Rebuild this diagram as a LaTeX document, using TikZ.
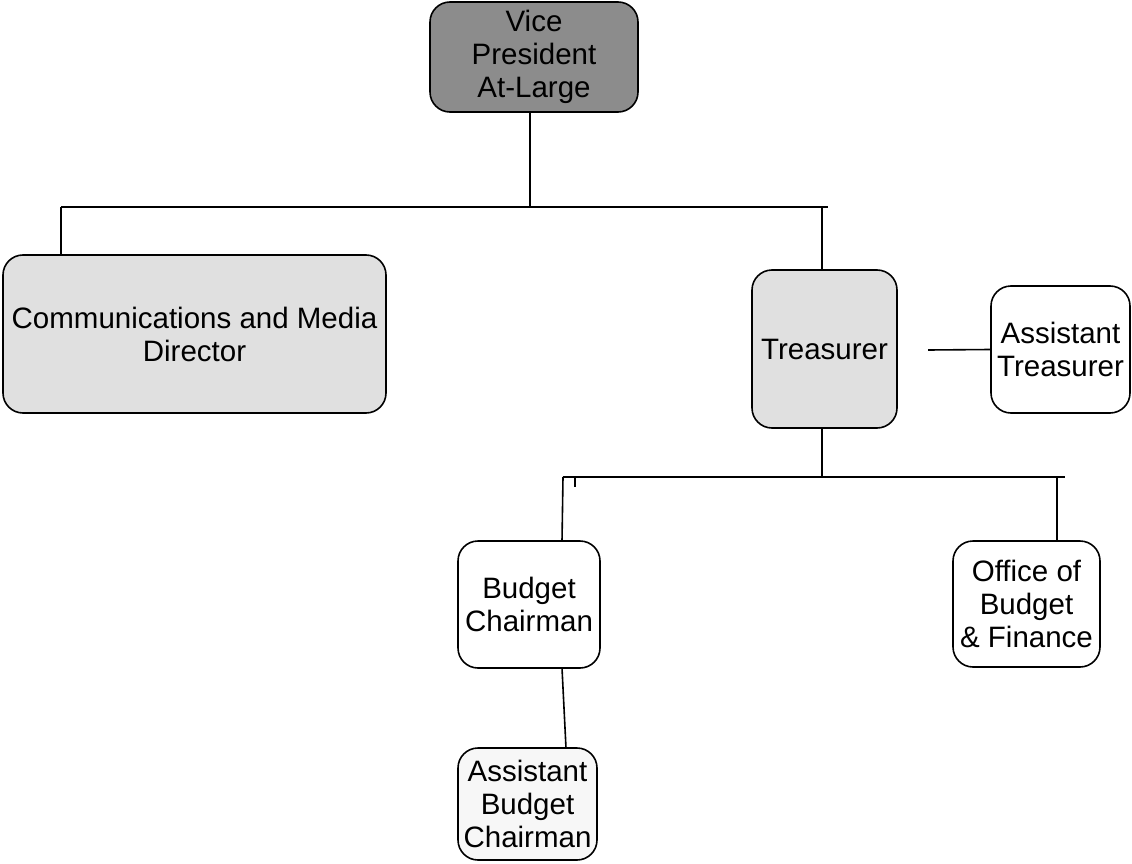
\documentclass[tikz,border=0pt]{standalone}
\usepackage{fontspec}
\setmainfont{Liberation Sans}
\usepackage{tikz}

\tikzset{
    post/.style={draw, line width=1.6pt, rounded corners=20pt, align=center,
        inner sep=0pt, font=\fontsize{29.5}{33}\selectfont},
    link/.style={line width=1.6pt}
}

\begin{document}
\begin{tikzpicture}[x=1pt, y=-1pt]
    \useasboundingbox (0,0) rectangle (1132,864);
    % boxes
    \node[post, fill=black!45, minimum width=208pt, minimum height=110pt] (vp) at (534,57) {Vice\\President\\At-Large};
    \node[post, fill=black!12, minimum width=383pt, minimum height=158pt] (comm) at (194.5,334) {Communications and Media\\Director};
    \node[post, fill=black!12, minimum width=145pt, minimum height=158pt] (treas) at (824.5,349) {Treasurer};
    \node[post, fill=white, minimum width=139pt, minimum height=127pt] (atreas) at (1060.5,349.5) {Assistant\\Treasurer};
    \node[post, fill=white, minimum width=142pt, minimum height=127pt] (budget) at (529,604.5) {Budget\\Chairman};
    \node[post, fill=white, minimum width=147pt, minimum height=126pt] (office) at (1026.5,604) {Office of\\Budget\\\& Finance};
    \node[post, fill=black!3, minimum width=139pt, minimum height=112pt] (abudget) at (527.5,804) {Assistant\\Budget\\Chairman};
    % junctions
    \coordinate (top) at (530,207);
    \coordinate (topL) at (61,207);
    \coordinate (topR) at (828,207);
    \coordinate (mid) at (822,477);
    \coordinate (midL) at (563,477);
    \coordinate (midR) at (1065,477);
    \coordinate (tick) at (575,477);
    \coordinate (side) at (928,350);
    \coordinate (bud) at (562,541);
    \coordinate (off) at (1057,477);
    \coordinate (budlow) at (562,668);
    \coordinate (abud) at (566,748);
    % connectors
    \draw[link] (top |- vp.south) -- (top);
    \draw[link] (topL) -- (topR);
    \draw[link] (topL) -- (topL |- comm.north);
    \draw[link] (mid |- topR) -- (mid |- treas.north);
    \draw[link] (side) -- (atreas.west);
    \draw[link] (mid |- treas.south) -- (mid);
    \draw[link] (midL) -- (midR);
    \draw[link] (tick) -- ++(0,10);
    \draw[link] (midL) -- (bud);
    \draw[link] (off) -- (off |- office.north);
    \draw[link] (budlow) -- (abud);
\end{tikzpicture}
\end{document}
